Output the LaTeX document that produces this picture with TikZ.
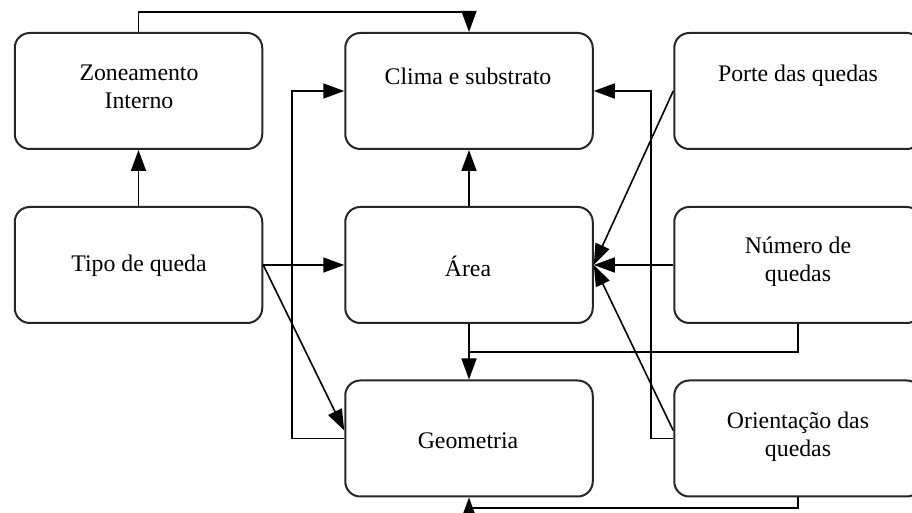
\documentclass[tikz,border=0pt]{standalone}
\usepackage{fontspec}
\setmainfont{Liberation Serif}
\usetikzlibrary{arrows.meta,calc}
\begin{document}
\begin{tikzpicture}[x=0.5pt,y=-0.5pt,
  box/.style={draw=black!85,line width=1pt,rounded corners=7.5pt,minimum width=123.75pt,minimum height=58pt,inner sep=0pt},
  lbl/.style={font=\fontsize{11.9}{14}\selectfont,align=center,inner sep=0pt},
  conn/.style={draw=black,line width=0.8pt},
  arr/.style={conn,-{Triangle[length=10.5pt,width=7.5pt]}}]
\useasboundingbox (0,0) rectangle (912,513);
\clip (0,0) rectangle (912,513);
% boxes
\node[box] (zon) at (138.5,91) {};
\node[box] (clima) at (469,91) {};
\node[box] (porte) at (798,91) {};
\node[box] (tipo) at (138.5,265) {};
\node[box] (area) at (469,265) {};
\node[box] (num) at (798,265) {};
\node[box] (geo) at (469,438.5) {};
\node[box] (ori) at (798,438.5) {};
% labels
\node[lbl] (tzon) at (139,87) {Zoneamento\\Interno};
\node[lbl] (tclima) at (468,76) {Clima e substrato};
\node[lbl] (tporte) at (798,76) {Porte das quedas};
\node[lbl] (ttipo) at (139,266) {Tipo de queda};
\node[lbl] (tarea) at (468,266) {Área};
\node[lbl] (tnum) at (798,262) {Número de\\quedas};
\node[lbl] (tgeo) at (468,441) {Geometria};
\node[lbl] (tori) at (798,437) {Orientação das\\quedas};
% connectors
\draw[arr] (zon.north) -- (zon.north |- 0,12) -| (clima.north);
\draw[arr] (tipo.north) -- (zon.south);
\draw[arr] (tipo.east) -- (area.west);
\draw[arr] (tipo.east) -- ($(geo.west)+(0,-8)$);
\draw[arr] (geo.west) -- ++(-52,0) |- (clima.west);
\draw[arr] (area.north) -- (clima.south);
\draw[arr] (area.south) -- (geo.north);
\draw[conn] (num.south) -- (num.south |- 0,352) -- (area.south |- 0,352);
\draw[arr] (porte.west) -- (area.east);
\draw[arr] (num.west) -- (area.east);
\draw[arr] ($(ori.west)+(0,-8)$) -- (area.east);
\draw[arr] (ori.west) -- ++(-22,0) |- (clima.east);
\draw[arr] (ori.south) -- (ori.south |- 0,508) -| (geo.south);
\end{tikzpicture}
\end{document}
